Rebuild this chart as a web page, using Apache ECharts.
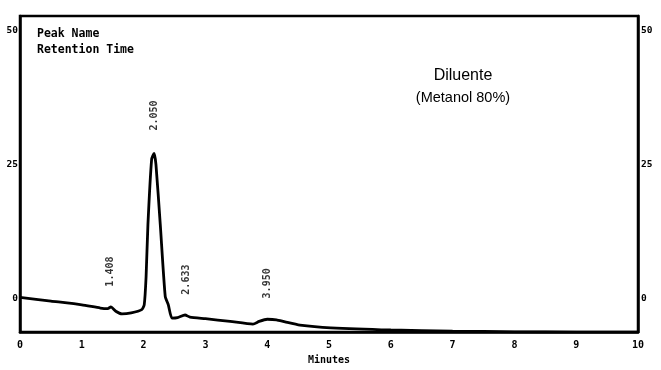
<!DOCTYPE html>
<html>
<head>
<meta charset="utf-8">
<script src="https://cdn.jsdelivr.net/npm/echarts@6/dist/echarts.min.js"></script>
<style>
  html, body { margin: 0; padding: 0; background: #fff; }
  #chart { width: 661px; height: 370px; }
</style>
</head>
<body>
<div id="chart"></div>
<script>
(function () {

    // detector signal, [minutes, response]
    var trace = [
        [0.00, 0.2], [0.50, -0.5], [1.00, -1.2], [1.30, -1.8], [1.42, -1.9],
        [1.47, -1.6], [1.55, -2.4], [1.65, -2.9], [1.80, -2.7], [1.97, -2.1],
        [2.01, -1.2], [2.04, 4.0], [2.07, 13.8], [2.13, 26.0], [2.17, 27.1],
        [2.20, 25.0], [2.27, 13.8], [2.35, 0.4], [2.40, -1.2], [2.46, -3.7],
        [2.55, -3.6], [2.67, -3.1], [2.75, -3.5], [3.00, -3.8], [3.40, -4.3],
        [3.77, -4.8], [3.87, -4.3], [4.00, -3.9], [4.15, -4.0], [4.29, -4.4],
        [4.53, -5.0], [5.03, -5.5], [6.00, -5.9], [7.00, -6.1], [8.00, -6.25],
        [9.00, -6.3], [10.00, -6.3]
    ];

    // retention time labels, [minutes, label base, text]
    var peakLabels = [
        [1.47, 2.2, '1.408'],
        [2.17, 31.4, '2.050'],
        [2.69, 0.7, '2.633'],
        [4.01, 0.0, '3.950']
    ];

    var xTicks = [0, 1, 2, 3, 4, 5, 6, 7, 8, 9, 10];
    var yTicks = [0, 25, 50];

    var MONO = '"DejaVu Sans Mono", monospace';

    var chart = echarts.init(document.getElementById('chart'));

    chart.setOption({
        animation: false,
        backgroundColor: '#fff',
        title: [
            { text: 'Peak Name\nRetention Time', left: 32, top: 21,
              textStyle: { fontFamily: MONO, fontWeight: 'bold', fontSize: 11.5, lineHeight: 16, color: '#000' } },
            { text: '{a|Diluente}\n{b|(Metanol 80%)}', left: 458, top: 60, textAlign: 'center',
              textStyle: { fontWeight: 'normal', rich: {
                  a: { fontFamily: 'Liberation Sans, Arial', fontWeight: 'normal', fontSize: 16, lineHeight: 22, color: '#000', align: 'center' },
                  b: { fontFamily: 'Liberation Sans, Arial', fontWeight: 'normal', fontSize: 14.5, lineHeight: 22, color: '#000', align: 'center' }
              } } }
        ],
        grid: { left: 20, right: 23, top: 16, bottom: 34,
                show: true, borderColor: '#000', borderWidth: 2.5 },
        xAxis: {
            type: 'value', min: 0, max: 10, interval: 1,
            name: 'Minutes', nameLocation: 'middle', nameGap: 21,
            nameTextStyle: { fontFamily: MONO, fontWeight: 'bold', fontSize: 10, color: '#000' },
            axisLine: { show: true, onZero: false, lineStyle: { color: '#000', width: 2.5 } },
            axisTick: { show: false },
            splitLine: { show: false },
            axisLabel: { margin: 8, fontFamily: MONO, fontWeight: 'bold', fontSize: 10, color: '#000',
                         customValues: xTicks }
        },
        yAxis: [
            { type: 'value', min: -6.3, max: 52.8, position: 'left',
              axisLine: { show: true, lineStyle: { color: '#000', width: 2.5 } },
              axisTick: { show: false }, splitLine: { show: false },
              axisLabel: { margin: 2, fontFamily: MONO, fontWeight: 'bold', fontSize: 9.5, color: '#000',
                           customValues: yTicks } },
            { type: 'value', min: -6.3, max: 52.8, position: 'right',
              axisLine: { show: true, lineStyle: { color: '#000', width: 2.5 } },
              axisTick: { show: false }, splitLine: { show: false },
              axisLabel: { margin: 3, fontFamily: MONO, fontWeight: 'bold', fontSize: 9.5, color: '#000',
                           customValues: yTicks } }
        ],
        series: [
            { type: 'line', data: trace, symbol: 'none', smooth: 0.2,
              lineStyle: { color: '#000', width: 2.8 } },
            { type: 'scatter', data: peakLabels, symbolSize: 0,
              label: { show: true, position: [0, 0], rotate: 90, align: 'left', verticalAlign: 'middle',
                       fontFamily: MONO, fontWeight: 'bold', fontSize: 10, color: '#000',
                       formatter: function (p) { return p.data[2]; } } }
        ]
    });

})();
</script>
</body>
</html>
